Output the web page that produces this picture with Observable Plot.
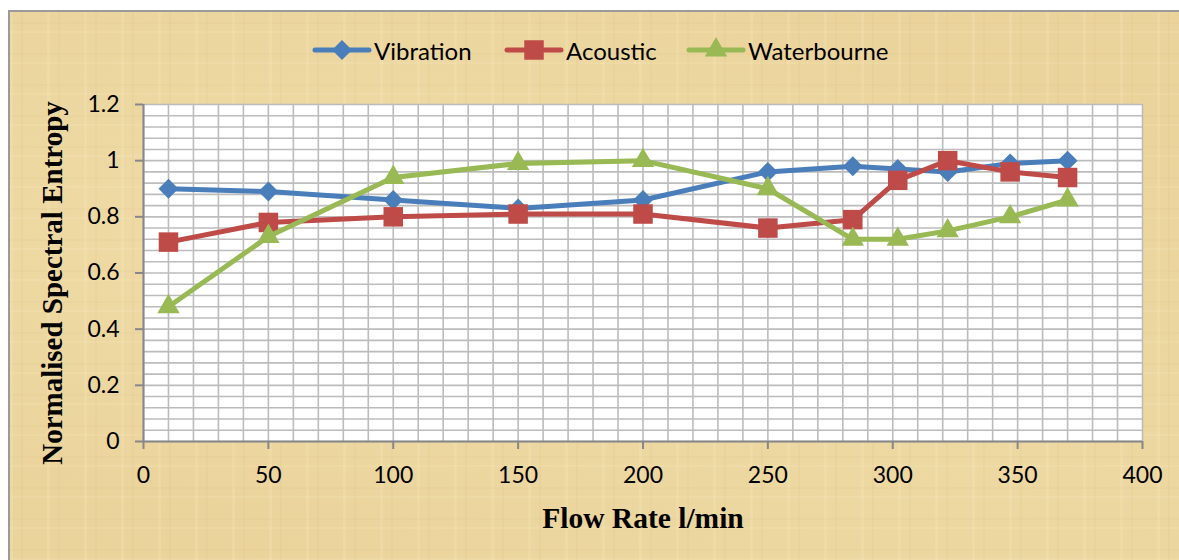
<!DOCTYPE html>
<html>
<head>
<meta charset="utf-8">
<script src="https://cdn.jsdelivr.net/npm/d3@7"></script>
<script src="https://cdn.jsdelivr.net/npm/@observablehq/plot@0.6"></script>
<style>
  html, body { margin: 0; padding: 0; background: #fff; }
  #wrap { position: relative; width: 1179px; height: 560px; overflow: hidden; background: #fff; }
  #paper {
    position: absolute; left: 8px; top: 10px; width: 1171px; height: 550px;
    border-left: 2px solid #9a9a9a; border-top: 2px solid #9a9a9a; box-sizing: border-box;
    background-color: #ebd49c;
    background-image:
      repeating-linear-gradient(90deg, rgba(255,245,210,0.14) 0 3px, rgba(0,0,0,0) 3px 11px, rgba(180,150,95,0.06) 11px 13px, rgba(0,0,0,0) 13px 37px),
      repeating-linear-gradient(0deg, rgba(255,245,210,0.12) 0 2px, rgba(0,0,0,0) 2px 9px, rgba(180,150,95,0.05) 9px 11px, rgba(0,0,0,0) 11px 31px),
      radial-gradient(ellipse at 30% 40%, rgba(245,228,180,0.5), rgba(0,0,0,0) 60%),
      radial-gradient(ellipse at 80% 80%, rgba(240,222,170,0.45), rgba(0,0,0,0) 55%);
  }
  #chart { position: absolute; left: 0; top: 0; }
  #legend { position: absolute; left: 0; top: 36px; width: 1179px; height: 28px;
    font-family: Lato, "Open Sans", sans-serif; font-size: 24px; color: #000; }
  .item { position: absolute; top: 0; display: flex; align-items: center; height: 28px; white-space: nowrap; }
  .item svg { display: block; margin-right: 2px; }
</style>
</head>
<body>
<div id="wrap">
  <div id="paper"></div>
  <div id="chart"></div>
  <div id="legend"></div>
</div>
<script>
// ---- data ----
const flowRate = [10, 50, 100, 150, 200, 250, 284, 302, 322, 347, 370];
const vibration = [0.90, 0.89, 0.86, 0.83, 0.86, 0.96, 0.98, 0.97, 0.96, 0.99, 1.00];
const acoustic = [0.71, 0.78, 0.80, 0.81, 0.81, 0.76, 0.79, 0.93, 1.00, 0.96, 0.94];
const waterbourne = [0.48, 0.73, 0.94, 0.99, 1.00, 0.90, 0.72, 0.72, 0.75, 0.80, 0.86];
const seriesNames = ["Vibration", "Acoustic", "Waterbourne"];
const xTicks = [0, 50, 100, 150, 200, 250, 300, 350, 400];
const yTicks = [0, 0.2, 0.4, 0.6, 0.8, 1, 1.2];
const xTitle = "Flow Rate l/min";
const yTitle = "Normalised Spectral Entropy";

const colors = {Vibration: "#4a7ebb", Acoustic: "#be4b48", Waterbourne: "#98b954"};
const symbols = {Vibration: "diamond2", Acoustic: "square", Waterbourne: "triangle"};
const radii = {Vibration: 9, Acoustic: 11, Waterbourne: 8.3};

const values = {Vibration: vibration, Acoustic: acoustic, Waterbourne: waterbourne};
const rows = s => flowRate.map((x, i) => ({x, y: values[s][i], s}));

const xGrid = d3.range(0, 41).map(i => i * 10);
const yGrid = d3.range(0, 31).map(i => +(i * 0.04).toFixed(2));

const seriesMarks = seriesNames.flatMap(s => [
  Plot.line(rows(s), {x: "x", y: "y", stroke: colors[s], strokeWidth: 5, strokeLinejoin: "round", strokeLinecap: "round"}),
  Plot.dot(rows(s), {x: "x", y: "y", fill: colors[s], stroke: "none", symbol: symbols[s], r: radii[s]})
]);

const serif = "'Liberation Serif', 'Times New Roman', serif";

const chart = Plot.plot({
  width: 1179, height: 560,
  marginLeft: 143, marginRight: 37, marginTop: 104, marginBottom: 119,
  x: {domain: [0, 400]},
  y: {domain: [0, 1.2]},
  style: {background: "transparent", fontFamily: "Lato, sans-serif", fontSize: "23px", color: "#000", overflow: "visible"},
  marks: [
    Plot.frame({fill: "white", stroke: "none"}),
    Plot.gridX(xGrid, {stroke: "#bcbcbc", strokeOpacity: 1, strokeWidth: 1.6}),
    Plot.gridY(yGrid, {stroke: "#bcbcbc", strokeOpacity: 1, strokeWidth: 1.6}),
    Plot.ruleX([0], {stroke: "#878787", strokeWidth: 2}),
    Plot.ruleY([0], {stroke: "#878787", strokeWidth: 2}),
    Plot.axisX(xTicks, {tickSize: 8, tickPadding: 17, stroke: "#878787", strokeWidth: 2, fill: "#000", label: null, fontSize: 23}),
    Plot.axisY(yTicks, {tickSize: 8, tickPadding: 16, stroke: "#878787", strokeWidth: 2, fill: "#000", label: null, fontSize: 23,
      tickFormat: d => String(+d.toFixed(1))}),
    ...seriesMarks,
    Plot.text([xTitle], {frameAnchor: "bottom", dy: 86, text: d => d, fontFamily: serif,
      fontWeight: "bold", fontSize: 29.5, fill: "#000", lineAnchor: "bottom", textAnchor: "middle"}),
    Plot.text([yTitle], {frameAnchor: "left", dx: -91, dy: 10, rotate: -90, text: d => d, fontFamily: serif,
      fontWeight: "bold", fontSize: 29, fill: "#000", lineAnchor: "middle", textAnchor: "middle"})
  ]
});
document.getElementById("chart").appendChild(chart);

// legend (swatches + labels)
const legend = d3.select("#legend");
const lefts = {Vibration: 312, Acoustic: 504, Waterbourne: 686};
const syms = {diamond2: d3.symbolDiamond2, square: d3.symbolSquare, triangle: d3.symbolTriangle};
seriesNames.forEach(s => {
  const item = legend.append("div").attr("class", "item").style("left", lefts[s] + "px");
  const svg = item.append("svg").attr("width", 60).attr("height", 28);
  svg.append("line").attr("x1", 3).attr("x2", 57).attr("y1", 14).attr("y2", 14)
    .attr("stroke", colors[s]).attr("stroke-width", 5).attr("stroke-linecap", "round");
  svg.append("path").attr("transform", "translate(30,14)")
    .attr("d", d3.symbol(syms[symbols[s]], Math.PI * radii[s] * radii[s])())
    .attr("fill", colors[s]);
  item.append("span").text(s);
});
</script>
</body>
</html>
